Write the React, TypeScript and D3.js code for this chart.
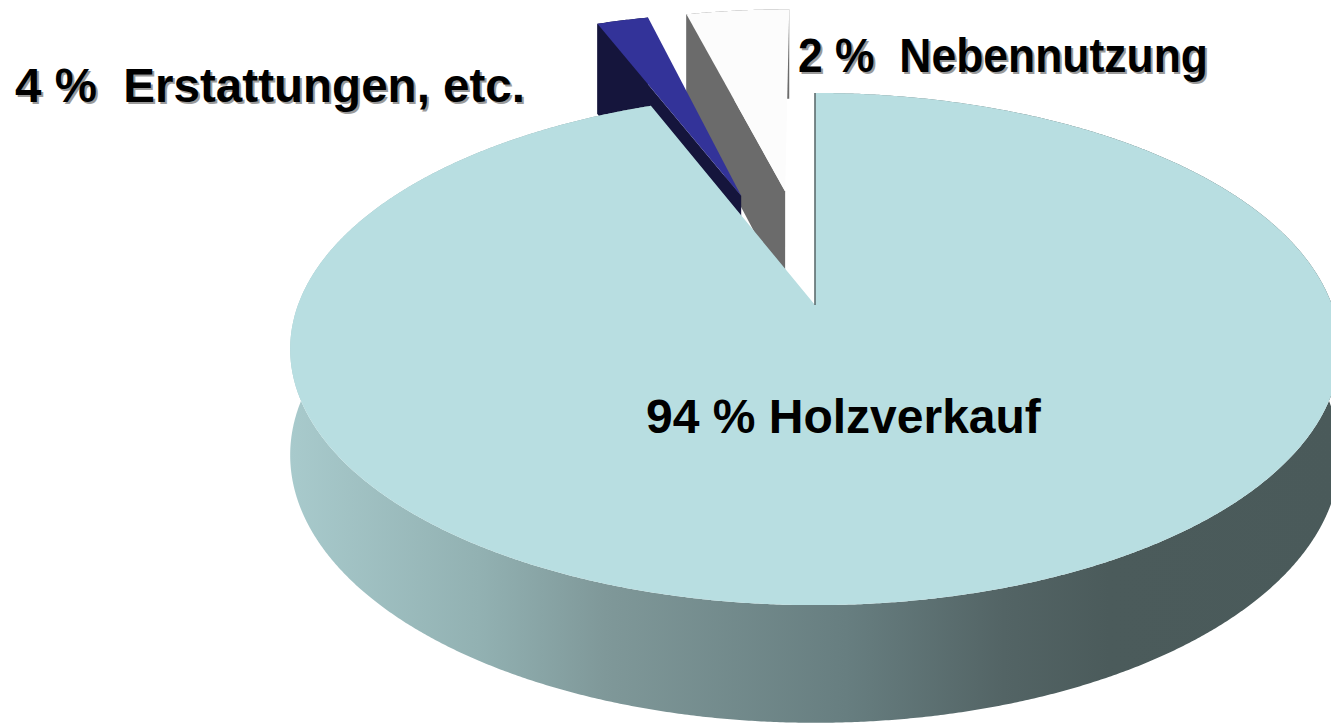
import React from 'react';
import * as d3 from 'd3';

// Slice data (clockwise from 12 o'clock)
const sliceNames = ["Holzverkauf", "Nebennutzung", "Erstattungen"];
const sliceShares = [94, 2, 4];

// Label texts as they appear on the chart
const labelTexts = ["94 % Holzverkauf", "4 %  Erstattungen, etc.", "2 %  Nebennutzung"];

const W = 1331;
const H = 725;

// 3D projection settings
const CX = 815;
const CY = 305;
const RX = 517;
const RY = 248.5;
const PERSP = 0.172;
const DEPTH = 104;

const topColors = ["#b8dee1", "#333399", "#fcfcfc"];
const sideColors = ["url(#sideGrad)", "#15153c", "#6b6b6b"];
const explodeBy = [0, 0.5, 0.5];

const labelStyle = [
  { x: 646, y: 433, len: 0, shadow: false },
  { x: 15, y: 102, len: 510, shadow: true },
  { x: 798, y: 72, len: 410, shadow: true },
];

type Pt = [number, number];

function project(u: number, v: number, d: number): Pt {
  const k = 1 / (1 - PERSP * v);
  return [CX + RX * u * k, CY + RY * v * k + d * DEPTH * Math.pow(k, 0.655)];
}

const closed = (pts: Pt[]) => (d3.line()(pts) || "") + "Z";

export default function App() {
  const pie = d3.pie<number>().sort(null).value(d => d);
  const arcs = pie(sliceShares);

  const slices = arcs.map((a, i) => {
    const mid = (a.startAngle + a.endAngle) / 2;
    const ou = explodeBy[i] * Math.sin(mid);
    const ov = -explodeBy[i] * Math.cos(mid);
    const pt = (t: number, r: number, d: number) =>
      project(ou + r * Math.sin(t), ov - r * Math.cos(t), d);
    const n = Math.max(4, Math.ceil((a.endAngle - a.startAngle) / 0.005));
    const arcPts = (d: number) =>
      d3.range(n + 1).map(j => pt(a.startAngle + ((a.endAngle - a.startAngle) * j) / n, 1, d));
    const apex = pt(0, 0, 0);
    return {
      name: sliceNames[i],
      top: closed([apex, ...arcPts(0)]),
      side: closed([...arcPts(0), ...arcPts(1).reverse()]),
      startFace: closed([apex, pt(a.startAngle, 1, 0), pt(a.startAngle, 1, 1), pt(0, 0, 1)]),
      edge: [apex, pt(a.startAngle, 1, 0)] as Pt[],
    };
  });

  // back slices first, the big front slice last
  const order = [2, 1, 0];

  return (
    <svg width={W} height={H} style={{ position: 'absolute', left: 0, top: 0, background: '#fff' }}
      fontFamily="'Liberation Sans', Arial, sans-serif">
      <defs>
        <linearGradient id="sideGrad" gradientUnits="userSpaceOnUse" x1={290} x2={1340} y1={0} y2={0}>
          <stop offset="0" stopColor="#a8cacc" />
          <stop offset="0.18" stopColor="#92b1b2" />
          <stop offset="0.3" stopColor="#7f9899" />
          <stop offset="0.53" stopColor="#677e80" />
          <stop offset="0.68" stopColor="#536465" />
          <stop offset="0.78" stopColor="#4b5b5b" />
          <stop offset="1" stopColor="#4a5a5a" />
        </linearGradient>
      </defs>
      {order.map(idx => {
        const s = slices[idx];
        return (
          <g key={s.name}>
            <path d={s.side} fill={sideColors[idx]} />
            {idx !== 0 && <path d={s.startFace} fill={sideColors[idx]} />}
            <path d={s.top} fill={topColors[idx]} />
            {idx === 0 && (
              <line x1={s.edge[0][0]} y1={s.edge[0][1]} x2={s.edge[1][0]} y2={s.edge[1][1]}
                stroke="#5d6d6e" strokeWidth={1.6} />
            )}
          </g>
        );
      })}
      {labelTexts.map((t, i) => {
        const ls = labelStyle[i];
        const extra = ls.len ? { textLength: ls.len, lengthAdjust: "spacingAndGlyphs" } : {};
        return (
          <g key={t} fontSize={48} fontWeight="bold">
            {ls.shadow && (
              <text x={ls.x + 2} y={ls.y + 2} fill="#9a9a9a" xmlSpace="preserve"
                style={{ whiteSpace: 'pre' }} {...extra}>{t}</text>
            )}
            <text x={ls.x} y={ls.y} fill="#000" xmlSpace="preserve"
              style={{ whiteSpace: 'pre' }} {...extra}>{t}</text>
          </g>
        );
      })}
    </svg>
  );
}
